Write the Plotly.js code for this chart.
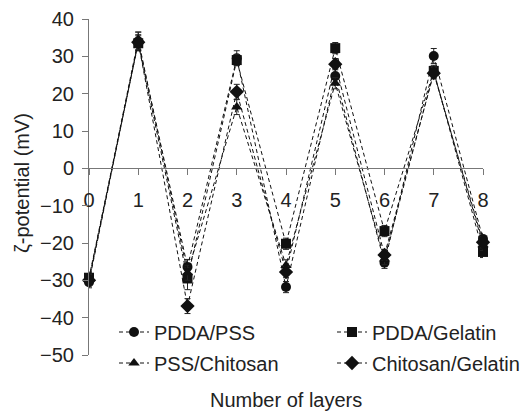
<!DOCTYPE html>
<html>
<head>
<meta charset="utf-8">
<script src="https://cdn.plot.ly/plotly-3.0.1.min.js"></script>
<style>html,body{margin:0;padding:0;background:#fff;}#chart{width:520px;height:418px;}</style>
</head>
<body>
<div id="chart"></div>
<script>
const layers = [0, 1, 2, 3, 4, 5, 6, 7, 8];
const seriesNames = ["PDDA/PSS", "PDDA/Gelatin", "PSS/Chitosan", "Chitosan/Gelatin"];
const pddaPss = [-30.5, 34.0, -26.4, 29.5, -31.8, 24.7, -25.3, 30.1, -18.9];
const pddaPssErr = [1.5, 2.5, 2.0, 2.0, 1.5, 2.0, 1.5, 2.0, 1.5];
const pddaGelatin = [-29.3, 33.5, -29.5, 29.0, -20.2, 32.2, -16.8, 26.1, -22.4];
const pddaGelatinErr = [1.5, 2.0, 3.0, 1.5, 1.5, 1.5, 1.5, 1.5, 1.5];
const pssChitosan = [-29.8, 34.5, -28.0, 16.4, -26.0, 22.8, -24.3, 25.8, -20.5];
const pssChitosanErr = [1.5, 2.0, 2.0, 2.0, 1.5, 1.5, 1.5, 1.5, 1.5];
const chitosanGelatin = [-30.0, 33.8, -36.9, 20.5, -27.8, 27.9, -23.2, 25.5, -19.8];
const chitosanGelatinErr = [1.5, 2.0, 2.0, 2.0, 1.5, 1.5, 1.5, 1.5, 1.5];
const yTicks = [40, 30, 20, 10, 0, -10, -20, -30, -40, -50];
const xTitle = "Number of layers";
const yTitle = "ζ-potential (mV)";

const values = [pddaPss, pddaGelatin, pssChitosan, chitosanGelatin];
const errs = [pddaPssErr, pddaGelatinErr, pssChitosanErr, chitosanGelatinErr];
const symbols = ["circle", "square", "triangle-up", "diamond"];
const sizes = [10, 10, 10, 11];
const legendIds = ["legend", "legend2", "legend3", "legend4"];

const traces = values.map((v, i) => ({
  x: layers, y: v, name: seriesNames[i], type: "scatter", mode: "lines+markers",
  line: {color: "#111", width: 1, dash: "4px,3px"},
  marker: {symbol: symbols[i], size: sizes[i], color: "#111"},
  error_y: {type: "data", array: errs[i], visible: true, color: "#222", thickness: 1, width: 3},
  cliponaxis: false,
  legend: legendIds[i]
}));

const font = {family: "Liberation Sans, Arial, sans-serif", size: 20, color: "#222"};
// plot area: x 89..483 px, y 19..355 px
const pxX = px => (px - 89) / 394;
const pxY = px => (355 - px) / 336;
const legendPos = [[114, 332], [332, 332], [114, 363], [332, 363]];

const layout = {
  width: 520, height: 418,
  margin: {l: 89, r: 37, t: 19, b: 63, autoexpand: false},
  paper_bgcolor: "#fff", plot_bgcolor: "#fff",
  font: font,
  showlegend: true,
  xaxis: {
    range: [0, 8], tickvals: layers, ticks: "outside", ticklen: 6, tickcolor: "#777",
    showline: true, linecolor: "#777", linewidth: 1, showgrid: false, zeroline: false,
    anchor: "free", position: 50/90, ticklabelstandoff: 8, tickfont: font, automargin: false
  },
  yaxis: {
    range: [-50, 40], tickvals: yTicks, ticks: "outside", ticklen: 6, tickcolor: "#777",
    showline: true, linecolor: "#777", linewidth: 1, showgrid: false, zeroline: false,
    tickfont: font, ticklabelstandoff: 4, automargin: false
  },
  annotations: [
    {text: xTitle, xref: "paper", yref: "paper", x: 0.5, y: pxY(400),
     xanchor: "center", yanchor: "middle", showarrow: false, font: font},
    {text: yTitle, xref: "paper", yref: "paper", x: pxX(22), y: pxY(183),
     xanchor: "center", yanchor: "middle", showarrow: false, textangle: -90, font: font}
  ]
};
legendIds.forEach((id, i) => {
  layout[id] = {
    orientation: "v", x: pxX(legendPos[i][0]), xanchor: "left", y: pxY(legendPos[i][1]), yanchor: "middle",
    font: font, bgcolor: "rgba(0,0,0,0)", itemwidth: 30
  };
});

Plotly.newPlot("chart", traces, layout, {displayModeBar: false, staticPlot: true});
</script>
</body>
</html>
